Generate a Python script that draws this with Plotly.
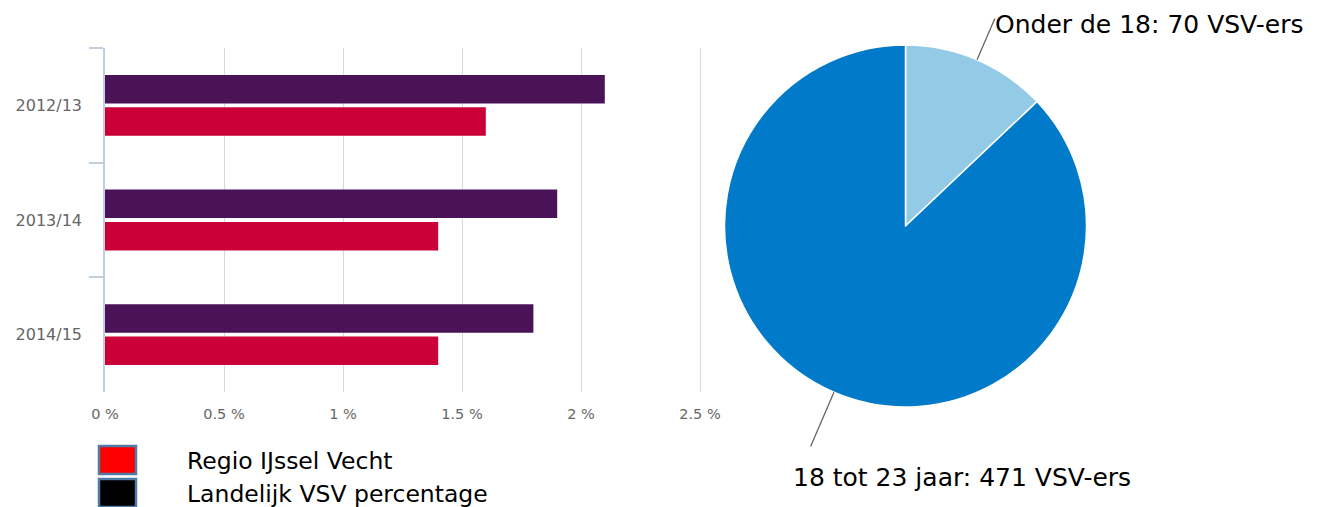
import math
import plotly.graph_objects as go

# ---- data ----
years = ["2012/13", "2013/14", "2014/15"]
landelijk = [2.1, 1.9, 1.8]          # Landelijk VSV percentage
regio = [1.6, 1.4, 1.4]              # Regio IJssel Vecht
x_ticks = [0, 0.5, 1, 1.5, 2, 2.5]
x_ticktext = ["0 %", "0.5 %", "1 %", "1.5 %", "2 %", "2.5 %"]
legend_names = ["Regio IJssel Vecht", "Landelijk VSV percentage"]
pie_labels = ["Onder de 18", "18 tot 23 jaar"]
pie_values = [70, 471]

OFF = 8                       # page body margin of the browser
W, H = 1317 - OFF, 507 - OFF
PURPLE = "#4A1358"
RED = "#CC0039"
PIE_LIGHT = "#93CAE6"
PIE_DARK = "#007AC9"

def px(x):
    return (x - OFF) / W

def py(y):
    return 1 - (y - OFF) / H

fig = go.Figure()
fig.add_trace(go.Bar(y=years, x=landelijk, orientation="h", marker_color=PURPLE,
                     marker_line_width=0, name=legend_names[1], showlegend=False,
                     xaxis="x", yaxis="y"))
fig.add_trace(go.Bar(y=years, x=regio, orientation="h", marker_color=RED,
                     marker_line_width=0, name=legend_names[0], showlegend=False,
                     xaxis="x", yaxis="y"))

# pie geometry (pixels)
cx, cy, r = 905.5, 226, 181
fig.add_trace(go.Pie(labels=pie_labels, values=pie_values, sort=False,
                     direction="clockwise", rotation=0, automargin=False,
                     marker=dict(colors=[PIE_LIGHT, PIE_DARK], line=dict(color="white", width=1.5)),
                     textinfo="none", hoverinfo="label+value", showlegend=False,
                     domain=dict(x=[px(cx - r), px(cx + r)], y=[py(cy + r), py(cy - r)])))

shapes = []
annotations = []
total = sum(pie_values)
cum = 0
label_r = [226, 240]
for i, (lab, val) in enumerate(zip(pie_labels, pie_values)):
    mid = (cum + val / 2) / total * 2 * math.pi
    cum += val
    sx, sy = cx + r * math.sin(mid), cy - r * math.cos(mid)
    ex, ey = cx + label_r[i] * math.sin(mid), cy - label_r[i] * math.cos(mid)
    shapes.append(dict(type="line", xref="paper", yref="paper",
                       x0=px(sx), y0=py(sy), x1=px(ex), y1=py(ey),
                       line=dict(color="#666666", width=1.3)))
    txt = f"{lab}: {val} VSV-ers"
    if i == 0:
        annotations.append(dict(x=px(ex - 2), y=py(ey + 6), xref="paper", yref="paper",
                                text=txt, showarrow=False, xanchor="left", yanchor="middle",
                                font=dict(family="DejaVu Sans", size=25, color="black")))
    else:
        annotations.append(dict(x=px(962), y=py(477), xref="paper", yref="paper",
                                text=txt, showarrow=False, xanchor="center", yanchor="middle",
                                font=dict(family="DejaVu Sans", size=25, color="black")))

# custom legend
leg_colors = ["#FF0000", "#000000"]
leg_y = [460, 493]
for name, col, yy in zip(legend_names, leg_colors, leg_y):
    shapes.append(dict(type="rect", xref="paper", yref="paper",
                       x0=px(99), x1=px(136), y0=py(yy - 14), y1=py(yy + 14),
                       fillcolor=col, line=dict(color="#4F7BA8", width=2.5)))
    annotations.append(dict(x=px(185), y=py(yy + 1), xref="paper", yref="paper", text=name,
                            showarrow=False, xanchor="left", yanchor="middle",
                            font=dict(family="DejaVu Sans", size=23.5, color="black")))

fig.update_layout(
    width=W, height=H,
    margin=dict(l=0, r=0, t=0, b=0, autoexpand=False),
    paper_bgcolor="white", plot_bgcolor="white",
    barmode="group", bargap=0.435, bargroupgap=0.12,
    showlegend=False,
    xaxis=dict(domain=[px(105), px(105 + 238 * 2.52)], range=[0, 2.52],
               tickvals=x_ticks, ticktext=x_ticktext, showgrid=True,
               gridcolor="#D9D9D9", gridwidth=1, zeroline=False, showline=False,
               ticks="", ticklabelstandoff=11, automargin=False,
               tickfont=dict(family="DejaVu Sans", size=14.5, color="#666666"),
               fixedrange=True),
    yaxis=dict(domain=[py(392), py(48)], autorange="reversed",
               showline=True, linecolor="#C0D0E0", linewidth=1.5,
               ticks="outside", tickson="boundaries", ticklen=14,
               tickcolor="#C0D0E0", tickwidth=1.5, showgrid=False,
               ticklabelstandoff=18, automargin=False,
               tickfont=dict(family="DejaVu Sans", size=16, color="#666666"),
               fixedrange=True),
    shapes=shapes, annotations=annotations,
)

fig.write_html("out.html")
